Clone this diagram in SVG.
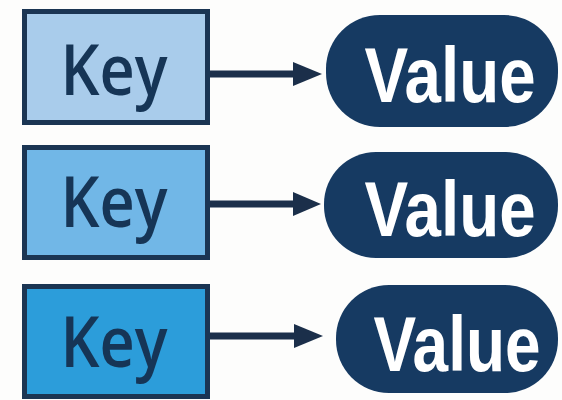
<svg xmlns="http://www.w3.org/2000/svg" width="562" height="400" viewBox="0 0 562 400">
<style>
.key rect{stroke:#1b3553;stroke-width:5}
.key text{font-family:"Open Sans","Liberation Sans",Arial,sans-serif;font-weight:600;font-size:70px;fill:#163556;text-anchor:middle}
.val rect{fill:#163a62}
.val text{font-family:"Liberation Sans",Arial,sans-serif;font-weight:bold;font-size:78px;fill:#ffffff;text-anchor:middle}
.conn line{stroke:#1b2f4a;stroke-width:7}
.conn polygon{fill:#1b2f4a}
</style>
<rect width="562" height="400" fill="#fdfdfc"/>
<g id="key1" class="key"><rect x="24.5" y="11.5" width="183" height="111" fill="#a9cceb"/><text x="114" y="95" textLength="107" lengthAdjust="spacingAndGlyphs">Key</text></g>
<g id="key2" class="key"><rect x="24.5" y="147.5" width="183" height="110" fill="#71b7e7"/><text x="114" y="227" textLength="107" lengthAdjust="spacingAndGlyphs">Key</text></g>
<g id="key3" class="key"><rect x="24.5" y="286.5" width="183" height="110" fill="#2c9dda"/><text x="114" y="367" textLength="107" lengthAdjust="spacingAndGlyphs">Key</text></g>
<g id="value1" class="val"><rect x="326" y="15" width="232" height="112" rx="54" ry="54"/><text transform="translate(450,102) scale(0.84,1)">Value</text></g>
<g id="value2" class="val"><rect x="324" y="152" width="234" height="106" rx="52" ry="52"/><text transform="translate(450,236) scale(0.84,1)">Value</text></g>
<g id="value3" class="val"><rect x="336" y="285" width="222" height="108" rx="53" ry="53"/><text transform="translate(457,371) scale(0.82,1)">Value</text></g>
<g id="connectors" class="conn">
<line x1="210" y1="74" x2="298" y2="74"/><polygon points="293,62 322,74 293,86"/>
<line x1="210" y1="204" x2="298" y2="204"/><polygon points="293,192 321,204 293,216"/>
<line x1="210" y1="336" x2="298" y2="336"/><polygon points="294,324 323,336 294,348"/>
</g>
</svg>
